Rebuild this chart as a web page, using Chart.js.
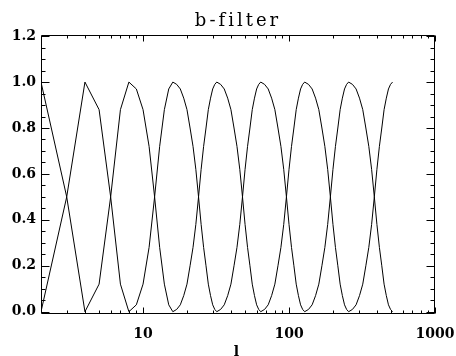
<!DOCTYPE html>
<html>
<head>
<meta charset="utf-8">
<script src="https://cdn.jsdelivr.net/npm/chart.js@4.4.0/dist/chart.umd.min.js"></script>
<style>
  html, body { margin: 0; padding: 0; background: #ffffff; }
  canvas { display: block; }
</style>
</head>
<body>
<canvas id="canvas" width="456" height="356"></canvas>
<script>
let colorInk = "#000000";
let fontFace = "DejaVu Serif";

// sampled multipoles l for each band [2^j, 2^(j+1)]
let ell1 = [2, 3, 4];
let ell2 = [4, 5, 6, 7, 8];
let ell3 = [8, 9, 10, 11, 12, 13, 14, 15, 16];
let ell4 = [16, 17, 18, 19, 20, 21, 22, 23, 24, 25, 26, 27, 28, 29, 30, 31, 32];
let ell5 = [32, 34, 36, 38, 40, 42, 44, 46, 48, 50, 52, 54, 56, 58, 60, 62, 64];
let ell6 = [64, 68, 72, 76, 80, 84, 88, 92, 96, 100, 104, 108, 112, 116, 120, 124, 128];
let ell7 = [128, 136, 144, 152, 160, 168, 176, 184, 192, 200, 208, 216, 224, 232, 240, 248, 256];
let ell8 = [256, 272, 288, 304, 320, 336, 352, 368, 384, 400, 416, 432, 448, 464, 480, 496, 512];

// falling side of the lower filter and rising side of the upper filter in each band
let fall1 = [1, 0.5, 0];
let rise1 = [0, 0.5, 1];
let fall2 = [1, 0.88, 0.5, 0.12, 0];
let rise2 = [0, 0.12, 0.5, 0.88, 1];
let fall3 = [1, 0.97, 0.88, 0.72, 0.5, 0.28, 0.12, 0.03, 0];
let rise3 = [0, 0.03, 0.12, 0.28, 0.5, 0.72, 0.88, 0.97, 1];
let fallWide = [1, 0.99, 0.97, 0.93, 0.88, 0.80, 0.72, 0.62, 0.5, 0.38, 0.28, 0.20, 0.12, 0.07, 0.03, 0.01, 0];
let riseWide = [0, 0.01, 0.03, 0.07, 0.12, 0.20, 0.28, 0.38, 0.5, 0.62, 0.72, 0.80, 0.88, 0.93, 0.97, 0.99, 1];

let bandEll = [ell1, ell2, ell3, ell4, ell5, ell6, ell7, ell8];
let bandFall = [fall1, fall2, fall3, fallWide, fallWide, fallWide, fallWide, fallWide];
let bandRise = [rise1, rise2, rise3, riseWide, riseWide, riseWide, riseWide, riseWide];

let xTickVals = [10, 100, 1000];
let xMinorVals = [3, 4, 5, 6, 7, 8, 9, 20, 30, 40, 50, 60, 70, 80, 90, 200, 300, 400, 500, 600, 700, 800, 900];
let yTickVals = [0, 0.2, 0.4, 0.6, 0.8, 1.0, 1.2];
let yMinorVals = [0.05, 0.1, 0.15, 0.25, 0.3, 0.35, 0.45, 0.5, 0.55, 0.65, 0.7, 0.75, 0.85, 0.9, 0.95, 1.05, 1.1, 1.15];

// filter j peaks at 2^(j+1): rising part from band j-1, falling part from band j
let filters = [];
for (let j = 0; j <= bandEll.length; j++) {
    let pts = [];
    if (j > 0) bandEll[j - 1].forEach((l, i) => pts.push({x: l, y: bandRise[j - 1][i]}));
    if (j < bandEll.length) bandEll[j].forEach((l, i) => pts.push({x: l, y: bandFall[j][i]}));
    filters.push(pts);
}

// IDL-style frame with ticks pointing inward on all four sides
let insideTicks = {
    id: "insideTicks",
    beforeDraw: (chart) => { chart.ctx.letterSpacing = "3px"; },
    afterDatasetsDraw: (chart) => { chart.ctx.letterSpacing = "0px"; },
    afterDraw: (chart) => {
        let {ctx, chartArea: a, scales: {x, y}} = chart;
        let left = Math.round(a.left) + 0.5, right = Math.round(a.right) - 0.5;
        let top = Math.round(a.top) + 0.5, bottom = Math.round(a.bottom) - 0.5;
        ctx.save();
        ctx.strokeStyle = colorInk;
        ctx.lineWidth = 1;
        ctx.beginPath();
        ctx.rect(left, top, right - left, bottom - top);
        let yTick = (v, len) => {
            let py = Math.round(y.getPixelForValue(v)) + 0.5;
            ctx.moveTo(left, py); ctx.lineTo(left + len, py);
            ctx.moveTo(right, py); ctx.lineTo(right - len, py);
        };
        let xTick = (v, len) => {
            let px = Math.round(x.getPixelForValue(v)) + 0.5;
            ctx.moveTo(px, bottom); ctx.lineTo(px, bottom - len);
            ctx.moveTo(px, top); ctx.lineTo(px, top + len);
        };
        yTickVals.forEach((v) => yTick(v, 8));
        yMinorVals.forEach((v) => yTick(v, 4));
        xTickVals.forEach((v) => xTick(v, 6));
        xMinorVals.forEach((v) => xTick(v, 3));
        ctx.stroke();
        ctx.restore();
    }
};

let tickFont = {family: fontFace, size: 14, weight: "bold", lineHeight: 1};

new Chart(document.getElementById("canvas").getContext("2d"), {
    type: "line",
    data: {
        datasets: filters.map((f) => ({
            data: f,
            borderColor: colorInk,
            borderWidth: 1,
            pointRadius: 0,
            tension: 0,
            fill: false
        }))
    },
    options: {
        responsive: false,
        animation: false,
        devicePixelRatio: 1,
        layout: {
            padding: {left: 0, right: 21, top: 0, bottom: 0}
        },
        plugins: {
            legend: {
                display: false
            },
            tooltip: {
                enabled: false
            },
            title: {
                display: true,
                fullSize: false,
                text: "b-filter",
                color: colorInk,
                font: {family: fontFace, size: 18, weight: "normal", lineHeight: 1},
                padding: {top: 12, bottom: 5}
            }
        },
        scales: {
            x: {
                type: "logarithmic",
                min: 2,
                max: 1000,
                bounds: "data",
                grid: {display: false, drawTicks: false},
                border: {display: false},
                ticks: {
                    z: 1,
                    padding: 13,
                    autoSkip: false,
                    maxRotation: 0,
                    color: colorInk,
                    font: tickFont,
                    callback: (v) => String(v)
                },
                title: {
                    display: true,
                    text: "l",
                    color: colorInk,
                    font: tickFont,
                    padding: {top: 0, bottom: -3}
                },
                afterBuildTicks: (s) => { s.ticks = xTickVals.map((v) => ({value: v})); },
                afterFit: (s) => { s.height = 42; s.paddingLeft = 0; s.paddingRight = 0; }
            },
            y: {
                type: "linear",
                min: -0.01,
                max: 1.205,
                bounds: "data",
                grid: {display: false, drawTicks: false},
                border: {display: false},
                ticks: {
                    z: 1,
                    padding: 5,
                    color: colorInk,
                    font: tickFont,
                    callback: (v) => v.toFixed(1)
                },
                afterBuildTicks: (s) => { s.ticks = yTickVals.map((v) => ({value: v})); },
                afterFit: (s) => { s.width = 41; s.paddingTop = 0; s.paddingBottom = 0; }
            }
        }
    },
    plugins: [insideTicks]
});
</script>
</body>
</html>
